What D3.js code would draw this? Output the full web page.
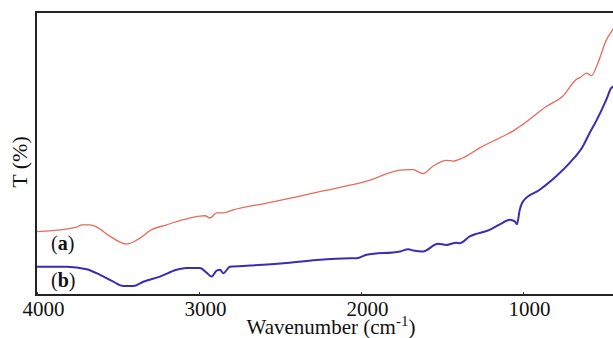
<!DOCTYPE html>
<html>
<head>
<meta charset="utf-8">
<script src="https://cdn.jsdelivr.net/npm/d3@7"></script>
<style>
  html, body { margin: 0; padding: 0; background: #fff; }
  svg { display: block; }
  text { font-family: "Liberation Serif", "Times New Roman", serif; fill: #111; }
</style>
</head>
<body>
<svg id="chart" width="613" height="338"></svg>
<script>
// ---- data (wavenumber in cm-1, transmittance in arbitrary %) ----
const xTicks = [4000, 3000, 2000, 1000];
const seriesNames = ["(a)", "(b)"];

const waveA = [4000, 3755, 3724, 3673, 3631, 3549, 3446, 3364, 3302, 3199, 3097, 2994, 2963, 2932, 2891, 2850, 2788, 2582, 2377, 2274, 2171, 1965, 1759, 1698, 1679, 1617, 1556, 1473, 1432, 1370, 1267, 1123, 1062, 1000, 856, 753, 670, 648, 608, 577, 543, 483, 451, 426];
const transA = [22.4, 24.0, 24.8, 24.8, 24.0, 20.7, 18.0, 20.1, 22.8, 24.8, 26.6, 27.9, 28.0, 27.2, 29.0, 29.0, 30.1, 32.5, 34.9, 36.3, 37.5, 40.2, 44.1, 44.3, 44.3, 42.9, 45.5, 47.6, 47.3, 48.5, 52.0, 56.1, 57.9, 60.3, 66.6, 70.3, 76.2, 76.8, 78.4, 77.5, 81.2, 90.4, 93.3, 95.7];

const waveB = [4000, 3817, 3693, 3611, 3529, 3467, 3406, 3344, 3241, 3138, 3076, 2994, 2953, 2922, 2891, 2870, 2850, 2809, 2685, 2480, 2274, 2068, 2027, 1965, 1759, 1708, 1677, 1617, 1525, 1473, 1412, 1391, 1329, 1206, 1123, 1082, 1051, 1037, 1020, 1000, 897, 795, 712, 630, 588, 546, 485, 457, 444, 426];
const transB = [10.0, 10.0, 9.1, 7.1, 4.7, 3.2, 3.2, 4.7, 6.5, 8.9, 9.5, 9.5, 7.9, 6.5, 8.6, 8.9, 7.7, 10.0, 10.4, 11.2, 12.4, 13.0, 13.0, 14.2, 15.4, 16.2, 15.7, 15.4, 18.1, 17.7, 18.5, 18.3, 20.7, 23.0, 25.6, 26.6, 26.0, 25.0, 30.1, 33.1, 37.2, 42.0, 46.7, 52.6, 57.3, 61.7, 69.1, 73.0, 73.7, 74.1];

// ---- layout ----
const svg = d3.select("#chart");
const mLeft = 36, mTop = 12, mBottom = 295;
const x = d3.scaleLinear().domain([4000, 1000]).range([37, 523]);
const y = d3.scaleLinear().domain([0, 100]).range([mBottom, mTop]);
const plotRight = 640;

svg.append("clipPath").attr("id", "clip")
  .append("rect").attr("x", mLeft).attr("y", mTop).attr("width", plotRight - mLeft).attr("height", mBottom - mTop);

const line = d3.line().x(d => x(d[0])).y(d => y(d[1])).curve(d3.curveMonotoneX);

const g = svg.append("g").attr("clip-path", "url(#clip)");
g.append("path")
  .datum(d3.zip(waveA, transA))
  .attr("d", line)
  .attr("fill", "none")
  .attr("stroke", "#e86a58")
  .attr("stroke-width", 1.3);
g.append("path")
  .datum(d3.zip(waveB, transB))
  .attr("d", line)
  .attr("fill", "none")
  .attr("stroke", "#3a2db4")
  .attr("stroke-width", 2);

// frame: left, top, bottom
const frame = svg.append("g").attr("stroke", "#222").attr("stroke-width", 2).attr("fill", "none");
frame.append("line").attr("x1", mLeft).attr("x2", mLeft).attr("y1", mTop).attr("y2", mBottom + 1);
frame.append("line").attr("x1", mLeft - 1).attr("x2", 613).attr("y1", mTop).attr("y2", mTop);
frame.append("line").attr("x1", mLeft - 1).attr("x2", 613).attr("y1", mBottom).attr("y2", mBottom);

// x axis ticks
const xAxis = d3.axisBottom(x).tickValues(xTicks).tickSize(-3).tickFormat(d3.format("d")).tickPadding(8);
const ax = svg.append("g").attr("transform", `translate(0,${mBottom})`).call(xAxis);
ax.select(".domain").remove();
ax.selectAll(".tick line").attr("stroke", "#333").attr("stroke-width", 1);
ax.selectAll(".tick text")
  .attr("font-family", "Liberation Serif, Times New Roman, serif")
  .attr("font-size", 21)
  .attr("fill", "#111")
  .attr("dx", 6)
  .attr("y", 6)
  .attr("dy", "0.71em");

// axis titles
const xt = svg.append("text").attr("x", 331).attr("y", 334).attr("text-anchor", "middle").attr("font-size", 21);
xt.append("tspan").text("Wavenumber (cm");
xt.append("tspan").attr("dy", -8).attr("font-size", 15).text("-1");
xt.append("tspan").attr("dy", 8).text(")");

svg.append("text")
  .attr("transform", "translate(27,162) rotate(-90)")
  .attr("text-anchor", "middle")
  .attr("font-size", 22)
  .text("T (%)");

// series labels
const labelY = [250, 287];
seriesNames.forEach((name, i) => {
  const t = svg.append("text").attr("x", 51).attr("y", labelY[i]).attr("font-size", 20);
  t.append("tspan").text("(");
  t.append("tspan").attr("font-weight", "bold").text(name.slice(1, -1));
  t.append("tspan").text(")");
});
</script>
</body>
</html>
